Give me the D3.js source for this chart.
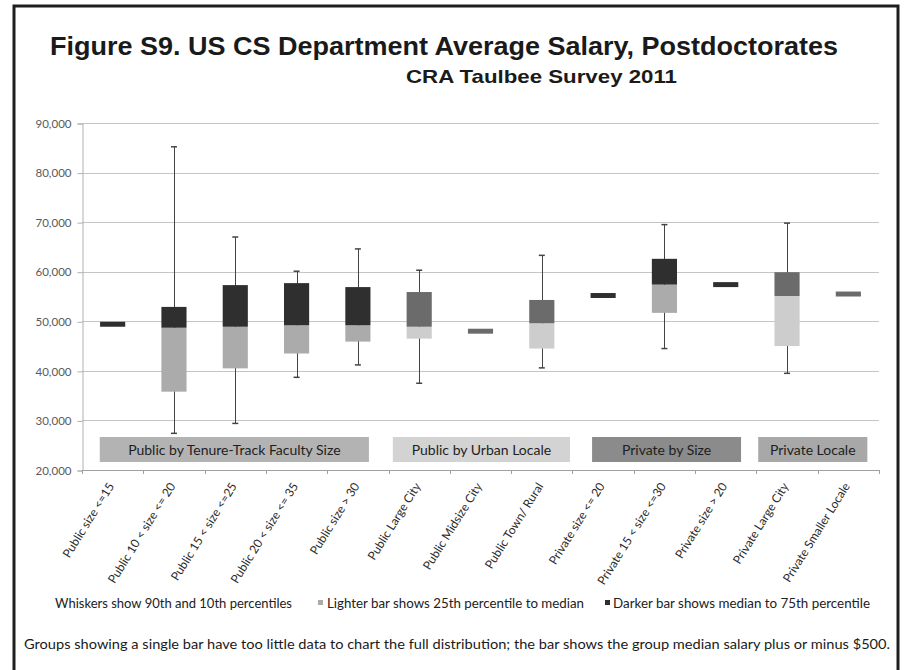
<!DOCTYPE html>
<html>
<head>
<meta charset="utf-8">
<script src="https://cdn.jsdelivr.net/npm/d3@7"></script>
<style>
  html, body { margin: 0; padding: 0; background: #fff; }
  svg { display: block; }
</style>
</head>
<body>
<svg id="chart" width="909" height="670"></svg>
<script>
// ---------- DATA ----------
const categories = [
  "Public size <=15", "Public 10 < size <= 20", "Public 15 < size <=25",
  "Public 20 < size <= 35", "Public size > 30", "Public Large City",
  "Public Midsize City", "Public Town/ Rural", "Private size <= 20",
  "Private 15 < size <=30", "Private size > 20", "Private Large City",
  "Private Smaller Locale"
];
const p10    = [null, 27400, 29400, 38700, 41200, 37500, null, 40600, null, 44500, null, 39500, null];
const p25    = [null, 35800, 40500, 43500, 45900, 46500, null, 44500, null, 51700, null, 45000, null];
const median = [49400, 48700, 48900, 49200, 49200, 48900, 48000, 49600, 55200, 57400, 57400, 55100, 55500];
const p75    = [null, 52900, 57300, 57700, 56900, 55900, null, 54300, null, 62600, null, 59900, null];
const p90    = [null, 85200, 67000, 60100, 64600, 60300, null, 63300, null, 69500, null, 69800, null];
const singleHalfRange = 500;
const groupOf = [0, 0, 0, 0, 0, 1, 1, 1, 2, 2, 2, 3, 3];
const groupNames = ["Public by Tenure-Track Faculty Size", "Public by Urban Locale", "Private by Size", "Private Locale"];
const groupFrom = [0.29, 5.07, 8.32, 11.03];   // in category-index units
const groupTo   = [4.68, 7.96, 10.75, 12.81];
const yTicks = [20000, 30000, 40000, 50000, 60000, 70000, 80000, 90000];
const titleText = "Figure S9. US CS Department Average Salary, Postdoctorates";
const subtitleText = "CRA Taulbee Survey 2011";
const legendTexts = ["Whiskers show 90th and 10th percentiles", "Lighter bar shows 25th percentile to median", "Darker bar shows median to 75th percentile"];
const footnoteText = "Groups showing a single bar have too little data to chart the full distribution;  the bar shows the group median salary plus or minus $500.";

// ---------- STYLE ----------
const darkColor = ["#2f2f2f", "#6b6b6b", "#2f2f2f", "#6b6b6b"];
const lightColor = ["#ababab", "#cdcdcd", "#ababab", "#cdcdcd"];
const groupBoxColor = ["#b3b3b3", "#d3d3d3", "#8b8b8b", "#a8a8a8"];
const chartFont = "Lato, 'Open Sans', sans-serif";

const svg = d3.select("#chart");
svg.append("rect").attr("x", 0).attr("y", 0).attr("width", 909).attr("height", 670).attr("fill", "#fff");

// frame
svg.append("rect").attr("x", 14).attr("y", 6).attr("width", 884).attr("height", 700)
  .attr("fill", "none").attr("stroke", "#1e1e1e").attr("stroke-width", 3);

// title
svg.append("text").attr("x", 50).attr("y", 55)
  .attr("font-family", "'Liberation Sans', Arial, sans-serif").attr("font-weight", "bold")
  .attr("font-size", 25).attr("fill", "#1a1a1a")
  .attr("textLength", 788).attr("lengthAdjust", "spacingAndGlyphs")
  .text(titleText);
svg.append("text").attr("x", 406).attr("y", 83)
  .attr("font-family", "'Liberation Sans', Arial, sans-serif").attr("font-weight", "bold")
  .attr("font-size", 19).attr("fill", "#1a1a1a")
  .attr("textLength", 271).attr("lengthAdjust", "spacingAndGlyphs")
  .text(subtitleText);

// plot geometry
const plotLeft = 82, plotRight = 879, plotTop = 123, plotBottom = 470;
const x = d3.scaleBand().domain(categories).range([plotLeft, plotRight]).paddingInner(0).paddingOuter(0);
const xi = d3.scaleLinear().domain([0, categories.length]).range([plotLeft, plotRight]);
const y = d3.scaleLinear().domain([20000, 90000]).range([plotBottom, plotTop]);
const barW = x.bandwidth() * 0.41;

// gridlines
svg.append("g").selectAll("line").data(yTicks).join("line")
  .attr("x1", plotLeft).attr("x2", plotRight)
  .attr("y1", d => Math.round(y(d)) + 0.5).attr("y2", d => Math.round(y(d)) + 0.5)
  .attr("stroke", "#c4c4c4").attr("stroke-width", 1);

// y axis
const yAxis = d3.axisLeft(y).tickValues(yTicks).tickFormat(d3.format(",")).tickSize(5).tickPadding(6);
const gy = svg.append("g").attr("transform", `translate(${plotLeft + 0.5},0.5)`).call(yAxis);
gy.select(".domain").attr("stroke", "#b0b0b0");
gy.selectAll(".tick line").attr("stroke", "#b0b0b0");
gy.selectAll(".tick text").attr("font-family", chartFont).attr("font-size", 11.5).attr("fill", "#5a5a5a");

// x axis (ticks at category boundaries)
const boundaries = d3.range(categories.length + 1);
const gx = svg.append("g");
gx.append("line").attr("x1", plotLeft).attr("x2", plotRight).attr("y1", plotBottom + 0.5).attr("y2", plotBottom + 0.5)
  .attr("stroke", "#a0a0a0");
gx.selectAll("line.tk").data(boundaries).join("line").attr("class", "tk")
  .attr("x1", d => Math.round(xi(d)) + 0.5).attr("x2", d => Math.round(xi(d)) + 0.5)
  .attr("y1", plotBottom).attr("y2", plotBottom + 4).attr("stroke", "#a0a0a0");

// x labels
svg.append("g").selectAll("text").data(categories).join("text")
  .attr("transform", d => `translate(${x(d) + x.bandwidth() / 2 + 2},${plotBottom + 16}) rotate(-58)`)
  .attr("text-anchor", "end")
  .attr("font-family", chartFont).attr("font-size", 12).attr("fill", "#2a2a2a")
  .text(d => d);

// group label boxes
const gb = svg.append("g");
groupNames.forEach((name, i) => {
  gb.append("rect").attr("x", xi(groupFrom[i])).attr("y", 437)
    .attr("width", xi(groupTo[i]) - xi(groupFrom[i])).attr("height", 25)
    .attr("fill", groupBoxColor[i]);
  gb.append("text").attr("x", (xi(groupFrom[i]) + xi(groupTo[i])) / 2).attr("y", 455)
    .attr("text-anchor", "middle").attr("font-family", chartFont).attr("font-size", 14)
    .attr("fill", "#1e1e1e").text(name);
});

// boxes
const marks = svg.append("g");
categories.forEach((c, i) => {
  const cx = x(c) + x.bandwidth() / 2;
  const g = groupOf[i];
  if (p25[i] === null) {
    marks.append("rect").attr("x", cx - barW / 2).attr("width", barW)
      .attr("y", y(median[i] + singleHalfRange))
      .attr("height", y(median[i] - singleHalfRange) - y(median[i] + singleHalfRange))
      .attr("fill", darkColor[g]);
    return;
  }
  marks.append("line").attr("x1", Math.round(cx) + 0.5).attr("x2", Math.round(cx) + 0.5)
    .attr("y1", y(p90[i])).attr("y2", y(p10[i])).attr("stroke", "#444").attr("stroke-width", 1);
  [p90[i], p10[i]].forEach(v => {
    marks.append("line").attr("x1", cx - 3).attr("x2", cx + 3)
      .attr("y1", y(v)).attr("y2", y(v)).attr("stroke", "#444").attr("stroke-width", 1.5);
  });
  marks.append("rect").attr("x", cx - barW / 2).attr("width", barW)
    .attr("y", y(median[i])).attr("height", y(p25[i]) - y(median[i]))
    .attr("fill", lightColor[g]);
  marks.append("rect").attr("x", cx - barW / 2).attr("width", barW)
    .attr("y", y(p75[i])).attr("height", y(median[i]) - y(p75[i]))
    .attr("fill", darkColor[g]);
});

// legend
const lg = svg.append("g").attr("font-family", chartFont).attr("font-size", 12.5).attr("fill", "#222");
lg.append("text").attr("x", 55).attr("y", 608).attr("textLength", 237).attr("lengthAdjust", "spacingAndGlyphs").text(legendTexts[0]);
lg.append("rect").attr("x", 318).attr("y", 600).attr("width", 5).attr("height", 5).attr("fill", lightColor[0]);
lg.append("text").attr("x", 327).attr("y", 608).attr("textLength", 257).attr("lengthAdjust", "spacingAndGlyphs").text(legendTexts[1]);
lg.append("rect").attr("x", 605).attr("y", 600).attr("width", 5).attr("height", 5).attr("fill", darkColor[0]);
lg.append("text").attr("x", 613).attr("y", 608).attr("textLength", 257).attr("lengthAdjust", "spacingAndGlyphs").text(legendTexts[2]);

// footnote
svg.append("text").attr("x", 24).attr("y", 649)
  .attr("font-family", chartFont).attr("font-size", 14).attr("fill", "#1a1a1a")
  .attr("textLength", 866).attr("lengthAdjust", "spacingAndGlyphs")
  .text(footnoteText);
</script>
</body>
</html>
